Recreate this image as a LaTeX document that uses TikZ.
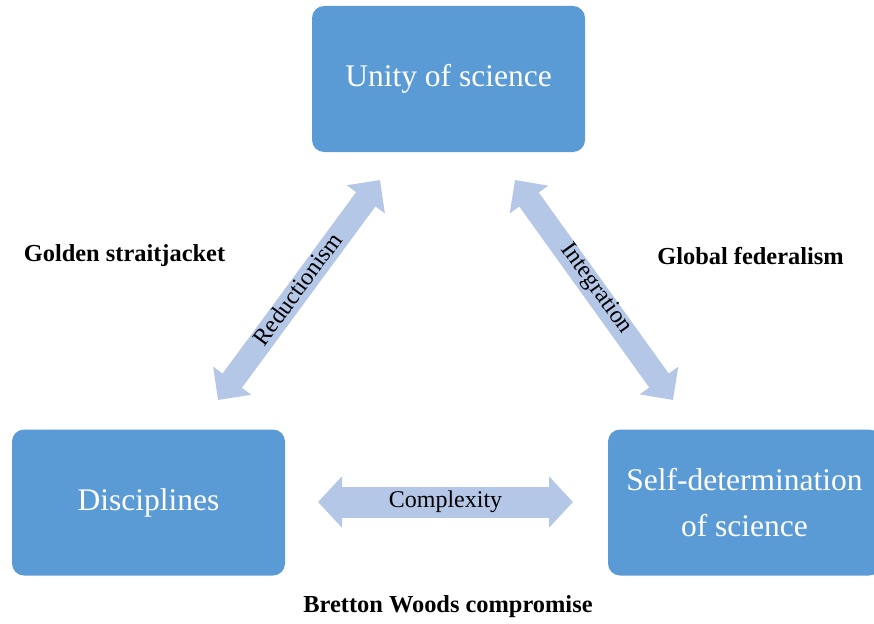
\documentclass[tikz,border=0pt]{standalone}
\usepackage{fontspec}
\setmainfont{Liberation Serif}
\usetikzlibrary{arrows.meta}
\definecolor{boxblue}{HTML}{5B9BD5}
\definecolor{arrowblue}{HTML}{B4C7E7}
\begin{document}
\begin{tikzpicture}[x=1pt,y=-1pt,
  mainbox/.style={rectangle, rounded corners=12pt, fill=boxblue, text=white,
    minimum width=273pt, minimum height=146pt, inner sep=0pt, align=center,
    font=\fontsize{31.5}{46}\selectfont},
  bigarrow/.style={arrowblue, line width=24pt,
    {Triangle[width=46pt,length=24pt]}-{Triangle[width=46pt,length=24pt]}},
  hzarrow/.style={arrowblue, line width=31pt,
    {Triangle[width=50pt,length=24pt]}-{Triangle[width=50pt,length=24pt]}},
  arrowlabel/.style={text=black, font=\fontsize{24}{28}\selectfont},
  sidelabel/.style={text=black, font=\bfseries\fontsize{24.4}{28}\selectfont}]
\useasboundingbox (0,0) rectangle (874,623);
\clip (0,0) rectangle (874,623);
\node[mainbox] (unity) at (448.5,79) {Unity of science};
\node[mainbox] (disc) at (148.5,502.5) {Disciplines};
\node[mainbox] (self) at (744.5,502.5) {Self-determination\\of science};
\coordinate (r1) at (218,400);
\coordinate (r2) at (380,180);
\coordinate (i1) at (515,180);
\coordinate (i2) at (673,400);
\coordinate (c1) at (318,502);
\coordinate (c2) at (573,502);
\draw[bigarrow] (r1) -- (r2) node[midway, sloped, arrowlabel, yshift=2pt] {Reductionism};
\draw[bigarrow] (i1) -- (i2) node[midway, sloped, arrowlabel, yshift=2pt] {Integration};
\draw[hzarrow] (c1) -- (c2) node[midway, arrowlabel] {Complexity};
\node[sidelabel] (golden) at (124.5,256) {Golden straitjacket};
\node[sidelabel] (global) at (750.5,256) {Global federalism};
\node[sidelabel] (bretton) at (448,607) {Bretton Woods compromise};
\end{tikzpicture}
\end{document}
